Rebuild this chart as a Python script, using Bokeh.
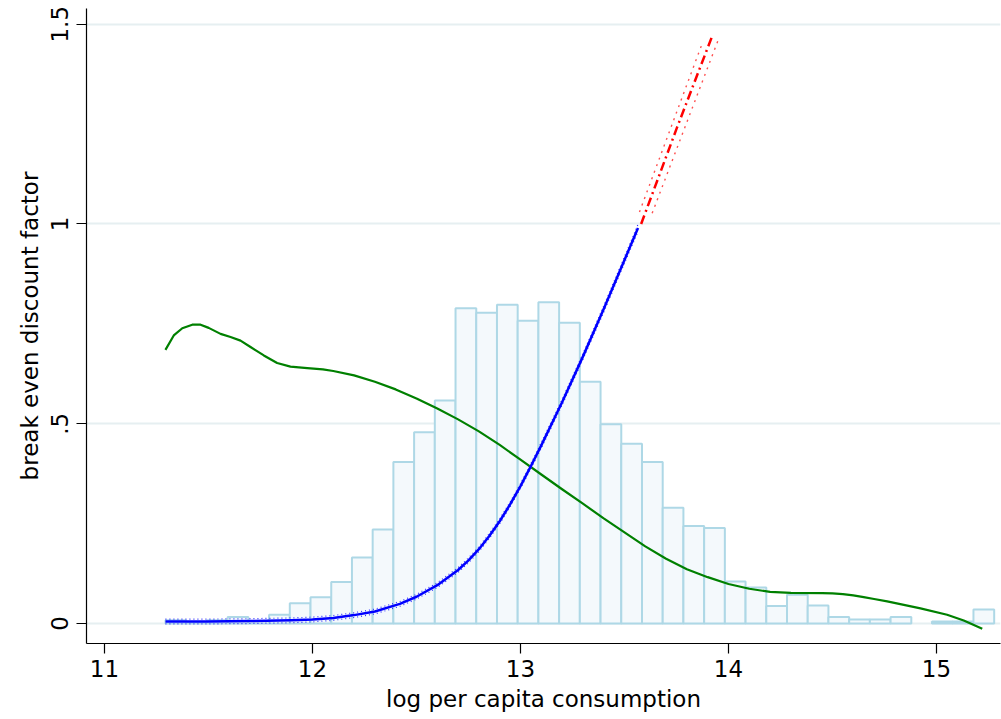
import numpy as np
from bokeh.plotting import figure
from bokeh.models import Range1d, FixedTicker
from bokeh.embed import file_html
from bokeh.resources import INLINE

# ---- data ----
bin_start = 11.2933
bin_width = 0.0996
hist_density = [0.008, 0.003, 0.008, 0.016, 0.006, 0.022, 0.051, 0.066, 0.104, 0.165,
                0.235, 0.404, 0.479, 0.558, 0.789, 0.778, 0.798, 0.758, 0.804, 0.753,
                0.605, 0.499, 0.450, 0.404, 0.290, 0.244, 0.239, 0.105, 0.090, 0.044,
                0.072, 0.045, 0.016, 0.010, 0.010, 0.016, 0.0, 0.005, 0.005, 0.035]

fit_x = [11.293, 11.5, 11.7, 11.9, 12.0, 12.1, 12.2, 12.3, 12.42, 12.5, 12.6, 12.7,
         12.75, 12.8, 12.85, 12.9, 12.95, 13.0, 13.05, 13.1, 13.2, 13.3, 13.4, 13.5, 13.565]
fit_y = [0.005, 0.005, 0.006, 0.008, 0.010, 0.014, 0.021, 0.030, 0.049, 0.067, 0.096, 0.134,
         0.158, 0.186, 0.219, 0.256, 0.298, 0.344, 0.394, 0.446, 0.554, 0.668, 0.787, 0.910, 0.990]
fit_ci = [0.006, 0.006, 0.006, 0.006, 0.006, 0.006, 0.006, 0.006, 0.006, 0.006, 0.006, 0.006,
          0.006, 0.006, 0.006, 0.006, 0.006, 0.006, 0.006, 0.007, 0.007, 0.007, 0.008, 0.008, 0.009]

ext_x = [13.58, 13.75, 13.925]
ext_y = [1.0, 1.238, 1.475]
ext_hi_x = [13.572, 13.873]
ext_hi_y = [1.03, 1.451]
ext_lo_x = [13.633, 13.953]
ext_lo_y = [1.027, 1.464]

dens_x = [11.293, 11.333, 11.374, 11.422, 11.462, 11.501, 11.558, 11.606, 11.654, 11.702,
          11.766, 11.830, 11.894, 11.975, 12.05, 12.1, 12.2, 12.3, 12.4, 12.5,
          12.6, 12.7, 12.8, 12.9, 13.0, 13.1, 13.2, 13.3, 13.4, 13.5,
          13.6, 13.7, 13.8, 13.9, 14.0, 14.1, 14.2, 14.3, 14.45, 14.5,
          14.55, 14.6, 14.65, 14.7, 14.763, 14.923, 15.051, 15.131, 15.22]
dens_y = [0.685, 0.721, 0.739, 0.748, 0.748, 0.740, 0.725, 0.717, 0.708, 0.692,
          0.671, 0.652, 0.643, 0.639, 0.636, 0.632, 0.621, 0.605, 0.586, 0.563,
          0.538, 0.511, 0.481, 0.447, 0.410, 0.373, 0.336, 0.300, 0.263, 0.228,
          0.193, 0.162, 0.136, 0.116, 0.099, 0.087, 0.079, 0.0765, 0.076, 0.0752,
          0.0735, 0.0705, 0.066, 0.0613, 0.0555, 0.038, 0.022, 0.0075, -0.013]

x_ticks = [11, 12, 13, 14, 15]
y_ticks = [0, 0.5, 1, 1.5]
y_tick_labels = {0: "0", 0.5: ".5", 1: "1", 1.5: "1.5"}

FONT = "DejaVu Sans"

p = figure(width=1001, height=719, output_backend="svg", toolbar_location=None,
           x_range=Range1d(10.9135, 15.3077), y_range=Range1d(-0.05006, 1.5394),
           min_border_left=86, min_border_right=1, min_border_top=8, min_border_bottom=76)
p.outline_line_color = None
p.background_fill_color = "white"
p.border_fill_color = "white"

# grid
p.xgrid.visible = False
p.ygrid.ticker = FixedTicker(ticks=y_ticks)
p.ygrid.grid_line_color = "#e6eff1"
p.ygrid.grid_line_width = 1.8

# histogram
lefts = [bin_start + bin_width * k for k in range(len(hist_density))]
rights = [l + bin_width for l in lefts]
tops = hist_density
keep = [i for i, h in enumerate(tops) if h > 0]
p.quad(left=[lefts[i] for i in keep], right=[rights[i] for i in keep],
       bottom=0, top=[tops[i] for i in keep],
       fill_color="#f4f9fc", line_color="#aed8e6", line_width=2)

# density curve
p.line(dens_x, dens_y, line_color="#008000", line_width=2.2, line_join="round")

# fitted curve with ci
fx = np.array(fit_x); fy = np.array(fit_y); fc = np.array(fit_ci)
p.line(fx, fy + fc, line_color="#3030ff", line_width=1.2, line_dash="1 3")
p.line(fx, fy - fc, line_color="#3030ff", line_width=1.2, line_dash="1 3")
p.line(fx, fy, line_color="#0000ff", line_width=2.5, line_join="round")

# extrapolation with ci
p.line(ext_hi_x, ext_hi_y, line_color="#ff5050", line_width=1.4, line_dash="2 5")
p.line(ext_lo_x, ext_lo_y, line_color="#ff5050", line_width=1.4, line_dash="2 5")
p.line(ext_x, ext_y, line_color="#ff0000", line_width=2.5, line_dash="9 4 2 4")

# axes
for ax in (p.xaxis[0], p.yaxis[0]):
    ax.axis_line_color = "black"
    ax.axis_line_width = 1.2
    ax.major_tick_line_color = "black"
    ax.major_tick_line_width = 1.2
    ax.major_tick_out = 10
    ax.major_tick_in = 0
    ax.minor_tick_line_color = None
    ax.major_label_text_font = FONT
    ax.major_label_text_font_size = "23px"
    ax.major_label_text_color = "black"
    ax.axis_label_text_font = FONT
    ax.axis_label_text_font_size = "23px"
    ax.axis_label_text_font_style = "normal"
    ax.axis_label_text_color = "black"

p.xaxis.ticker = FixedTicker(ticks=x_ticks)
p.xaxis.major_label_standoff = 6
p.xaxis.axis_label = "log per capita consumption"
p.xaxis.axis_label_standoff = 6

p.yaxis.ticker = FixedTicker(ticks=y_ticks)
p.yaxis.major_label_overrides = y_tick_labels
p.yaxis.major_label_orientation = "vertical"
p.yaxis.major_label_standoff = 8
p.yaxis.axis_label = "break even discount factor"
p.yaxis.axis_label_standoff = 6

open("out.html", "w").write(file_html(p, INLINE))
